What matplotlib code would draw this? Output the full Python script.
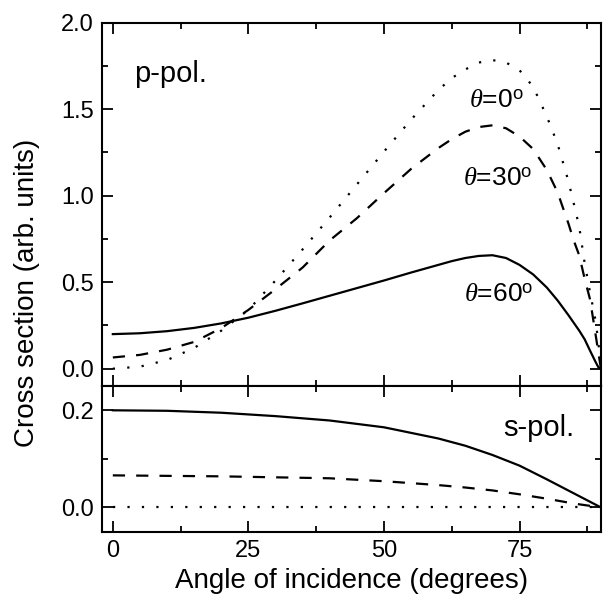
import numpy as np
import matplotlib
matplotlib.use("Agg")
import matplotlib.pyplot as plt
from matplotlib.ticker import MultipleLocator

plt.rcParams["font.family"] = ["Liberation Sans", "DejaVu Sans"]
plt.rcParams["mathtext.fontset"] = "custom"
plt.rcParams["mathtext.it"] = "Liberation Serif:italic"
plt.rcParams["mathtext.rm"] = "Liberation Sans"

# p-polarisation
ang_p = [0, 5, 10, 15, 20, 25, 30, 35, 40, 45, 50, 55, 60, 62.5, 65, 67.5, 70,
         72.5, 75, 77.5, 80, 82, 84, 85, 86, 87, 88, 89, 89.5, 90]
p_0 = [0.0, 0.012, 0.05, 0.12, 0.22, 0.34, 0.51, 0.69, 0.875, 1.065, 1.255,
       1.44, 1.61, 1.68, 1.73, 1.77, 1.784, 1.77, 1.725, 1.63, 1.46, 1.30,
       1.085, 0.954, 0.82, 0.61, 0.44, 0.28, 0.16, 0.0]
p_30 = [0.065, 0.08, 0.11, 0.155, 0.235, 0.34, 0.46, 0.585, 0.742, 0.87,
        1.015, 1.155, 1.275, 1.327, 1.37, 1.397, 1.407, 1.39, 1.342, 1.27,
        1.15, 1.02, 0.84, 0.74, 0.655, 0.52, 0.40, 0.20, 0.10, 0.0]
p_60 = [0.20, 0.205, 0.217, 0.236, 0.262, 0.295, 0.335, 0.378, 0.422, 0.466,
        0.51, 0.556, 0.60, 0.622, 0.64, 0.652, 0.656, 0.64, 0.60, 0.545,
        0.47, 0.395, 0.31, 0.265, 0.22, 0.17, 0.104, 0.04, 0.01, 0.0]

# s-polarisation
ang_s = [0, 10, 20, 30, 40, 50, 60, 65, 70, 75, 80, 85, 90]
s_0 = [0.0] * len(ang_s)
s_30 = [0.066, 0.065, 0.064, 0.062, 0.060, 0.054, 0.046, 0.041, 0.035,
        0.027, 0.018, 0.008, 0.0]
s_60 = [0.200, 0.199, 0.195, 0.188, 0.179, 0.165, 0.142, 0.127, 0.108,
        0.086, 0.058, 0.029, 0.0]

labels = [r"$\theta$=0$^\mathrm{o}$", r"$\theta$=30$^\mathrm{o}$", r"$\theta$=60$^\mathrm{o}$"]

dot = (0, (1, 5.5))
dash = (0, (5.5, 5))
lw = 1.6

fig = plt.figure(figsize=(6.07, 6.01), dpi=100)
ax1 = fig.add_axes([0.168, 0.3577, 0.822, 0.6045])
ax2 = fig.add_axes([0.168, 0.1153, 0.822, 0.2424], sharex=ax1)

ax1.plot(ang_p, p_0, color="black", lw=lw, linestyle=dot)
ax1.plot(ang_p, p_30, color="black", lw=lw, linestyle=dash)
ax1.plot(ang_p, p_60, color="black", lw=lw, linestyle="-")

ax2.plot(ang_s, s_0, color="black", lw=lw, linestyle=dot)
ax2.plot(ang_s, s_30, color="black", lw=lw, linestyle=dash)
ax2.plot(ang_s, s_60, color="black", lw=lw, linestyle="-")

ax1.set_xlim(-2, 90)
ax1.set_ylim(-0.1, 2.0)
ax2.set_ylim(-0.05, 0.25)

ax1.yaxis.set_major_locator(MultipleLocator(0.5))
ax1.yaxis.set_minor_locator(MultipleLocator(0.25))
ax2.yaxis.set_major_locator(MultipleLocator(0.2))
ax2.yaxis.set_minor_locator(MultipleLocator(0.1))
ax2.xaxis.set_major_locator(MultipleLocator(25))
ax2.xaxis.set_minor_locator(MultipleLocator(12.5))

for ax in (ax1, ax2):
    for sp in ax.spines.values():
        sp.set_linewidth(1.5)
    ax.tick_params(which="both", direction="in", top=True, right=True,
                   width=1.3, labelsize=17, pad=6)
    ax.tick_params(which="major", length=8)
    ax.tick_params(which="minor", length=4.5)
ax1.tick_params(labelbottom=False)

ax1.text(4.0, 1.659, "p-pol.", fontsize=21, ha="left", va="baseline")
ax2.text(72.0, 0.1466, "s-pol.", fontsize=21, ha="left", va="baseline")
ax1.text(70.7, 1.506, labels[0], fontsize=19, ha="center", va="baseline")
ax1.text(71.0, 1.06, labels[1], fontsize=19, ha="center", va="baseline")
ax1.text(71.2, 0.384, labels[2], fontsize=19, ha="center", va="baseline")

fig.text(0.579, 1 - 581 / 601, "Angle of incidence (degrees)", fontsize=20,
         ha="center", va="center")
fig.text(0.045, 1 - 293 / 601, "Cross section (arb. units)", fontsize=20,
         rotation=90, ha="center", va="center")

fig.savefig("out.png", dpi=100)
